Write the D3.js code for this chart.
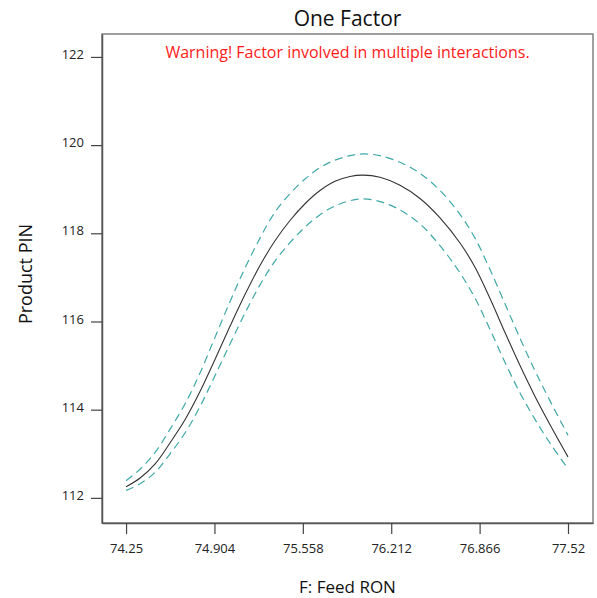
<!DOCTYPE html>
<html>
<head>
<meta charset="utf-8">
<script src="https://cdn.jsdelivr.net/npm/d3@7"></script>
<style>
  body { margin: 0; background: #fff; }
  svg { display: block; font-family: "Open Sans", "Noto Sans", sans-serif; }
</style>
</head>
<body>
<svg id="one-factor" width="597" height="598"></svg>
<script>
const feedRON = [74.250, 74.354, 74.465, 74.576, 74.686, 74.797, 74.908, 75.019, 75.130, 75.241,
    75.352, 75.463, 75.574, 75.685, 75.796, 75.907, 76.003, 76.129, 76.277, 76.425,
    76.573, 76.721, 76.832, 76.943, 77.054, 77.165, 77.276, 77.387, 77.520];
// predicted Product PIN
const pinMean = [112.25, 112.45, 112.77, 113.25, 113.77, 114.41, 115.14, 115.89, 116.61, 117.27,
    117.83, 118.29, 118.67, 118.97, 119.18, 119.29, 119.32, 119.27, 119.09, 118.79,
    118.35, 117.78, 117.23, 116.52, 115.75, 115.00, 114.30, 113.66, 112.93];
// dashed band, upper and lower
const pinUpper = [112.39, 112.65, 113.03, 113.56, 114.13, 114.83, 115.64, 116.45, 117.21, 117.89,
    118.48, 118.90, 119.23, 119.49, 119.66, 119.76, 119.80, 119.76, 119.61, 119.36,
    118.97, 118.43, 117.89, 117.18, 116.40, 115.62, 114.88, 114.20, 113.42];
const pinLower = [112.17, 112.32, 112.58, 113.00, 113.47, 114.07, 114.77, 115.49, 116.19, 116.83,
    117.37, 117.79, 118.14, 118.42, 118.62, 118.74, 118.78, 118.72, 118.53, 118.21,
    117.72, 117.10, 116.53, 115.82, 115.07, 114.38, 113.78, 113.24, 112.66];

const xTicks = [74.25, 74.904, 75.558, 76.212, 76.866, 77.52];
const yTicks = [112, 114, 116, 118, 120, 122];

const svg = d3.select("#one-factor"),
    width = +svg.attr("width"),
    height = +svg.attr("height"),
    margin = { top: 34, right: 4, bottom: 75, left: 102 },
    chartWidth = width - margin.left - margin.right,
    chartHeight = height - margin.top - margin.bottom;

const chart = svg.append("g")
    .attr("transform", `translate(${margin.left},${margin.top})`);

const x = d3.scaleLinear()
    .domain([74.072, 77.705])
    .range([0, chartWidth]);

const y = d3.scaleLinear()
    .domain([111.43, 122.52])
    .range([chartHeight, 0]);

// frame
chart.append("rect")
    .attr("width", chartWidth)
    .attr("height", chartHeight)
    .attr("fill", "none")
    .attr("stroke", "#808080")
    .attr("stroke-width", 1.5);

// axes
const xAxis = chart.append("g")
    .attr("transform", `translate(0,${chartHeight})`)
    .call(d3.axisBottom(x).tickValues(xTicks).tickFormat(d => String(d)).tickSize(11).tickSizeOuter(0).tickPadding(10));

const yAxis = chart.append("g")
    .call(d3.axisLeft(y).tickValues(yTicks).tickSize(11).tickSizeOuter(0).tickPadding(7));

[xAxis, yAxis].forEach(a => {
    a.select(".domain").attr("stroke", "#555").attr("stroke-width", 1.5);
    a.selectAll(".tick line").attr("stroke", "#444").attr("stroke-width", 1.2);
    a.selectAll(".tick text")
        .style("font-family", "'Open Sans', sans-serif")
        .style("font-size", "13px")
        .style("fill", "#222");
});
yAxis.selectAll(".tick text").attr("dy", "0.12em");

const rows = feedRON.map((f, i) => ({ f, mean: pinMean[i], up: pinUpper[i], lo: pinLower[i] }));

const line = key => d3.line()
    .x(d => x(d.f))
    .y(d => y(d[key]))
    .curve(d3.curveCatmullRom.alpha(0.5));

// bands
["up", "lo"].forEach(k => {
    chart.append("path")
        .datum(rows)
        .attr("fill", "none")
        .attr("stroke", "#3fa8a8")
        .attr("stroke-width", 1.2)
        .attr("stroke-dasharray", "8,5")
        .attr("d", line(k));
});

chart.append("path")
    .datum(rows)
    .attr("fill", "none")
    .attr("stroke", "#333")
    .attr("stroke-width", 1.1)
    .attr("d", line("mean"));

// titles
svg.append("text")
    .attr("x", margin.left + chartWidth / 2)
    .attr("y", 26)
    .attr("text-anchor", "middle")
    .style("font-size", "21px")
    .style("fill", "#111")
    .text("One Factor");

svg.append("text")
    .attr("x", margin.left + chartWidth / 2)
    .attr("y", 58)
    .attr("text-anchor", "middle")
    .style("font-size", "16px")
    .style("fill", "#ff1a1a")
    .text("Warning! Factor involved in multiple interactions.");

svg.append("text")
    .attr("x", margin.left + chartWidth / 2)
    .attr("y", 593)
    .attr("text-anchor", "middle")
    .style("font-size", "17px")
    .style("fill", "#111")
    .text("F: Feed RON");

svg.append("text")
    .attr("transform", "translate(32,274) rotate(-90)")
    .attr("text-anchor", "middle")
    .style("font-size", "18px")
    .style("fill", "#111")
    .text("Product PIN");
</script>
</body>
</html>
